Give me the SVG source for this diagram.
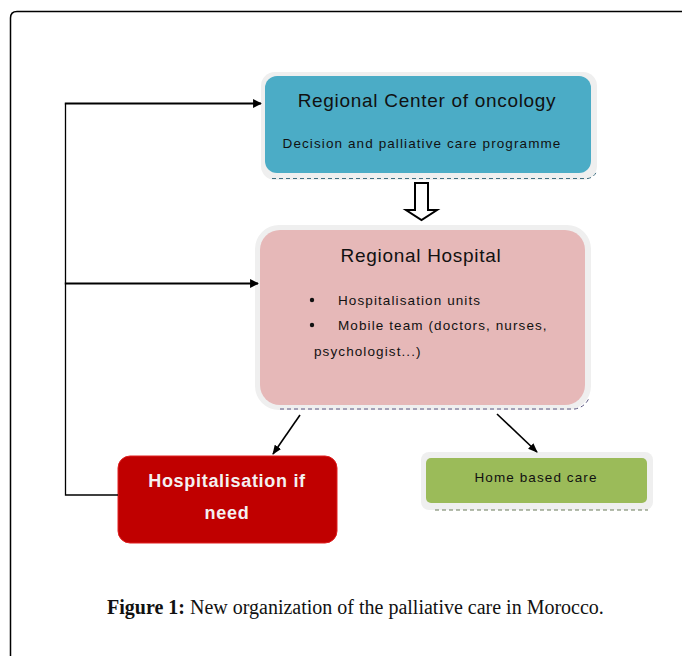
<svg xmlns="http://www.w3.org/2000/svg" width="683" height="656" viewBox="0 0 683 656">
<defs>
<marker id="ah" viewBox="0 0 10 10" refX="9" refY="5" markerWidth="4" markerHeight="4" orient="auto" markerUnits="strokeWidth"><path d="M0,0 L10,5 L0,10 Z" fill="#000"/></marker>
<marker id="ah2" viewBox="0 0 10 10" refX="9" refY="5" markerWidth="6" markerHeight="6" orient="auto" markerUnits="strokeWidth"><path d="M0,1 L10,5 L0,9 Z" fill="#000"/></marker>
</defs>
<style>
.t{font-family:"Liberation Sans",Arial,sans-serif;fill:#111}
.b{font-size:13.5px;letter-spacing:1.1px}
.halo{fill:#EFEFEF}
.conn{stroke:#000;fill:none}
</style>
<rect width="683" height="656" fill="#fff"/>
<path d="M10.5,660 L10.5,18 Q10.5,11.5 17,11.5 L682,11.5" fill="none" stroke="#000" stroke-width="1.5"/>
<g id="center">
<rect class="halo" x="261" y="72" width="336" height="108" rx="14"/>
<rect x="265" y="76" width="326" height="97" rx="12" fill="#4BACC6"/>
<path d="M272,178.5 L588,178.5 Q595,177 597,170" fill="none" stroke="#3E6E80" stroke-width="1" stroke-dasharray="4,3"/>
<text class="t" x="427" y="107" font-size="19" text-anchor="middle" letter-spacing="0.7">Regional Center of oncology</text>
<text class="t" x="422" y="148" font-size="13.5" text-anchor="middle" letter-spacing="1.1">Decision and palliative care programme</text>
</g>
<g id="hospital">
<rect class="halo" x="255" y="225" width="336" height="185" rx="24"/>
<rect x="260" y="230" width="325" height="175" rx="20" fill="#E6B8B8"/>
<path d="M280,409 L575,409 Q585,407 589,398" fill="none" stroke="#5A5580" stroke-width="1" stroke-dasharray="4,3"/>
<text class="t" x="421" y="262" font-size="19" text-anchor="middle" letter-spacing="0.7">Regional Hospital</text>
<circle cx="312" cy="300" r="2.2" fill="#111"/>
<circle cx="312" cy="325" r="2.2" fill="#111"/>
<text class="t b" x="338" y="305">Hospitalisation units</text>
<text class="t b" x="338" y="330">Mobile team (doctors, nurses,</text>
<text class="t b" x="314" y="356">psychologist...)</text>
</g>
<g id="hospitalisation">
<rect x="118" y="456" width="219" height="87" rx="12" fill="#C00000" stroke="#E02020" stroke-width="1"/>
<text x="227" y="487" font-size="18" font-weight="bold" text-anchor="middle" letter-spacing="0.7" fill="#F4F0F0" font-family="Liberation Sans,Arial,sans-serif">Hospitalisation if</text>
<text x="227" y="519" font-size="18" font-weight="bold" text-anchor="middle" letter-spacing="0.7" fill="#F4F0F0" font-family="Liberation Sans,Arial,sans-serif">need</text>
</g>
<g id="home">
<rect class="halo" x="421" y="452" width="232" height="58" rx="8"/>
<rect x="426" y="458" width="221" height="45" rx="5" fill="#9BBB59"/>
<path d="M435,510 L648,510" fill="none" stroke="#6A7A5A" stroke-width="1" stroke-dasharray="4,3"/>
<text class="t b" x="536" y="482" text-anchor="middle">Home based care</text>
</g>
<g id="connectors">
<path class="conn" d="M118,495 L65.5,495 L65.5,103.5" stroke-width="1.3"/>
<path class="conn" d="M64.8,103.5 L261,103.5" stroke-width="2.2" marker-end="url(#ah)"/>
<path class="conn" d="M64.8,283.5 L258,283.5" stroke-width="2.2" marker-end="url(#ah)"/>
<path d="M415,183 L428,183 L428,210 L437,210 L421.5,220 L406,210 L415,210 Z" fill="#fff" stroke="#000" stroke-width="2" stroke-linejoin="miter"/>
<path class="conn" d="M300,415 L273,454" stroke-width="1.6" marker-end="url(#ah2)"/>
<path class="conn" d="M497,414 L537,452" stroke-width="1.6" marker-end="url(#ah2)"/>
</g>
<g id="caption">
<text x="107" y="614" font-size="20" font-family="Liberation Serif,Times New Roman,serif" fill="#111"><tspan font-weight="bold">Figure 1:</tspan> New organization of the palliative care in Morocco.</text>
</g>
</svg>
